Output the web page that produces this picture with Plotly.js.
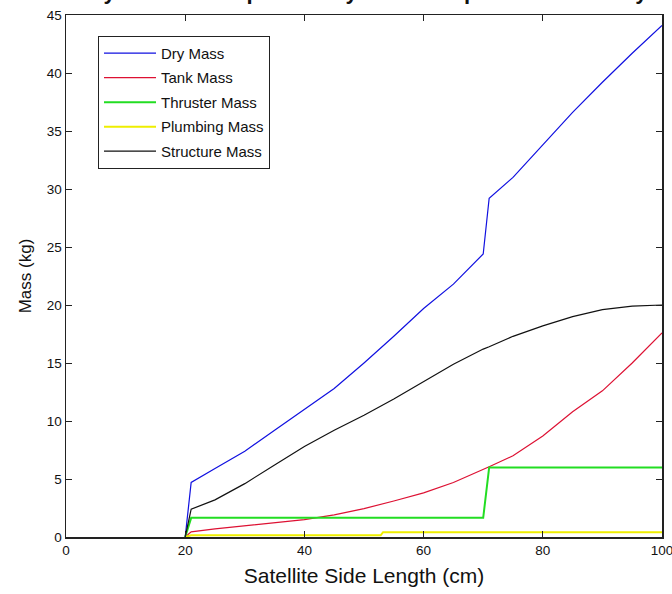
<!DOCTYPE html>
<html>
<head>
<meta charset="utf-8">
<script src="https://cdn.plot.ly/plotly-3.0.1.min.js"></script>
<style>
html,body{margin:0;padding:0;background:#fff;}
#chart{width:672px;height:594px;}
</style>
</head>
<body>
<div id="chart"></div>
<script>
// Satellite side length (cm)
const sideLength = [20, 21, 25, 30, 35, 40, 45, 50, 55, 60, 65, 70, 71, 75, 80, 85, 90, 95, 100];
const dryMass =       [0, 4.7, 5.9, 7.4, 9.2, 11.0, 12.8, 15.0, 17.3, 19.7, 21.8, 24.4, 29.2, 31.0, 33.8, 36.6, 39.2, 41.7, 44.1];
const tankMass =      [0, 0.45, 0.7, 0.95, 1.2, 1.5, 1.9, 2.45, 3.1, 3.8, 4.7, 5.8, 6.05, 7.0, 8.7, 10.8, 12.6, 15.0, 17.6];
const structureMass = [0, 2.4, 3.2, 4.6, 6.2, 7.8, 9.2, 10.5, 11.9, 13.4, 14.9, 16.2, 16.4, 17.3, 18.2, 19.0, 19.6, 19.9, 20.0];
const thrusterX =    [20, 21, 70, 71, 100];
const thrusterMass = [0, 1.65, 1.65, 6.0, 6.0];
const plumbingX =    [20, 21, 52.8, 53.2, 100];
const plumbingMass = [0, 0.15, 0.15, 0.42, 0.42];

const seriesNames = ['Dry Mass', 'Tank Mass', 'Thruster Mass', 'Plumbing Mass', 'Structure Mass'];
const xTicks = [0, 20, 40, 60, 80, 100];
const yTicks = [0, 5, 10, 15, 20, 25, 30, 35, 40, 45];

// Title: only the bottom of it is visible in the reference (cut off at the top edge)
const titleText = 'Dry Mass of Propulsion System Components vs. Body Size';

const mk = (x, y, name, color, width) => ({
  x: x, y: y, name: name, type: 'scatter', mode: 'lines',
  line: {color: color, width: width}, legendgroup: name
});

const traces = [
  mk(sideLength, dryMass, seriesNames[0], '#1010e0', 1.2),
  mk(sideLength, tankMass, seriesNames[1], '#dd1133', 1.2),
  mk(thrusterX, thrusterMass, seriesNames[2], '#22dd22', 2),
  mk(plumbingX, plumbingMass, seriesNames[3], '#eeee00', 2),
  mk(sideLength, structureMass, seriesNames[4], '#111111', 1.2)
];

const tickFont = {family: '"Liberation Sans Narrow", "Arial Narrow", "Liberation Sans", Arial, sans-serif', size: 13.5, color: '#111'};

const layout = {
  width: 672, height: 594,
  margin: {l: 66, r: 10, t: 15, b: 57, pad: 0},
  paper_bgcolor: '#fff', plot_bgcolor: '#fff',
  showlegend: true,
  legend: {
    x: 0.0537, y: 0.96, xanchor: 'left', yanchor: 'top',
    bgcolor: '#fff', bordercolor: '#222', borderwidth: 1,
    font: {family: '"Liberation Sans", Arial, sans-serif', size: 15, color: '#111'},
    tracegroupgap: 2, itemwidth: 52
  },
  xaxis: {
    range: [0, 100], tickvals: xTicks, ticktext: xTicks.map(String),
    ticks: 'inside', ticklen: 6, tickcolor: '#222', tickwidth: 1,
    showline: true, linecolor: '#222', linewidth: 1.5, mirror: 'ticks',
    showgrid: false, zeroline: false, tickfont: tickFont,
    ticklabeloverflow: 'allow',
    title: {text: 'Satellite Side Length (cm)', standoff: 11,
      font: {family: '"Liberation Sans", Arial, sans-serif', size: 21, color: '#111'}}
  },
  yaxis: {
    range: [0, 45], tickvals: yTicks, ticktext: yTicks.map(String),
    ticks: 'inside', ticklen: 6, tickcolor: '#222', tickwidth: 1,
    showline: true, linecolor: '#222', linewidth: 1.5, mirror: 'ticks',
    showgrid: false, zeroline: false, tickfont: tickFont,
    title: {text: 'Mass (kg)', standoff: 11,
      font: {family: '"Liberation Sans", Arial, sans-serif', size: 17, color: '#111'}}
  },
  annotations: [{
    text: '<b>' + titleText + '</b>', xref: 'paper', yref: 'paper',
    x: (77 - 66) / 596, y: 1, xanchor: 'left', yanchor: 'bottom', yshift: 9,
    showarrow: false, align: 'left',
    font: {family: '"Liberation Sans", Arial, sans-serif', size: 22, color: '#111'}
  }]
};

Plotly.newPlot('chart', traces, layout, {displayModeBar: false, staticPlot: true});
</script>
</body>
</html>
